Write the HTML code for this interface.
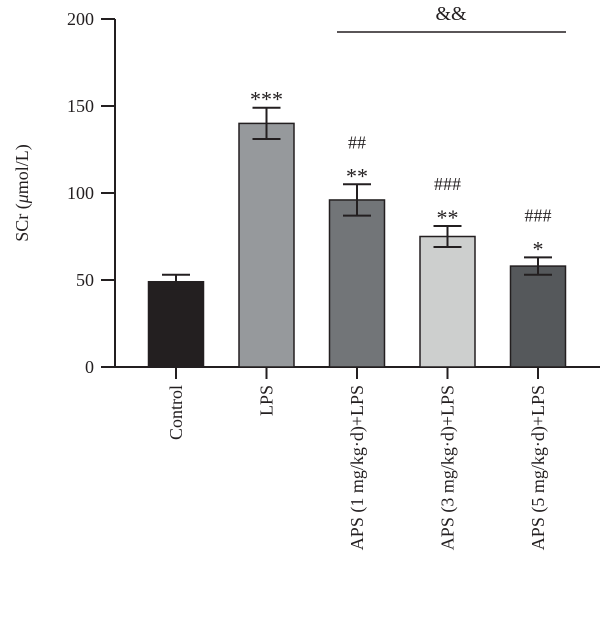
<!DOCTYPE html>
<html><head><meta charset="utf-8"><style>body{margin:0;background:#fff}svg{font-family:"Liberation Serif",serif}</style></head>
<body>
<svg id="chart" width="600" height="614"></svg>
<script>
const categories=["Control","LPS","APS (1 mg/kg·d)+LPS","APS (3 mg/kg·d)+LPS","APS (5 mg/kg·d)+LPS"];
const values=[49,140,96,75,58];
const errors=[4,9,9,6,5];
const signif=["","***","##\n**","###\n**","###\n*"];
const yTicks=[0,50,100,150,200];
const fills=["#231f20","#96999c","#727578","#cdcfce","#55585b"];
const svg=document.getElementById('chart');
const NS="http://www.w3.org/2000/svg";
const y0=367,ppu=1.74,x0=176,step=90.5,bw=55;
const Y=v=>y0-v*ppu, X=i=>x0+i*step;
function mk(t,a,p){const e=document.createElementNS(NS,t);for(const k in a)e.setAttribute(k,a[k]);(p||svg).appendChild(e);return e;}
let ax=mk('line',{x1:115,y1:Y(200),x2:115,y2:y0+1,stroke:'#231f20','stroke-width':2});


let xa=mk('line',{x1:115,y1:y0,x2:600,y2:y0,stroke:'#231f20','stroke-width':2});


yTicks.forEach(v=>{
 let t=mk('line',{x1:101,x2:115,y1:Y(v),y2:Y(v),stroke:'#231f20','stroke-width':2});
 
 
 let l=mk('text',{x:94,y:Y(v)+6,'text-anchor':'end','font-size':18,fill:'#231f20'});
 l.textContent=v;
 
 
});
let yt=mk('text',{transform:'translate(28,193) rotate(-90)','text-anchor':'middle','font-size':18,fill:'#231f20'});
yt.innerHTML='SCr (<tspan font-style="italic">μ</tspan>mol/L)';


categories.forEach((c,i)=>{
 const cx=X(i);
 let b=mk('rect',{x:cx-bw/2,y:Y(values[i]),width:bw,height:y0-Y(values[i]),fill:fills[i],stroke:'#231f20','stroke-width':1.5});
 
 
 const t=Y(values[i]+errors[i]),bo=Y(values[i]-errors[i]);
 let e=mk('path',{d:`M${cx},${bo}V${t}M${cx-14},${t}H${cx+14}M${cx-14},${bo}H${cx+14}`,stroke:'#231f20','stroke-width':2,fill:'none'});
 
 
 let tk=mk('line',{x1:cx,x2:cx,y1:y0,y2:y0+12,stroke:'#231f20','stroke-width':2});
 
 
 let l=mk('text',{transform:`translate(${cx+6},385) rotate(-90)`,'text-anchor':'end','font-size':18,fill:'#231f20'});
 l.textContent=c;
 
 
 const lines=signif[i]?signif[i].split('\n').reverse():[];
 lines.forEach((s,k)=>{
  let st=mk('text',{x:cx,y:t-7-k*29+(s[0]=='*'?6:0),'text-anchor':'middle','font-size':s[0]=='*'?22:18,fill:'#231f20'});
  st.textContent=s;
  
  
 });
});
let sl=mk('line',{x1:337,x2:566,y1:32,y2:32,stroke:'#231f20','stroke-width':1.5});


let am=mk('text',{x:451,y:20,'text-anchor':'middle','font-size':20,fill:'#231f20'});
am.textContent='&&';


</script>
</body></html>
